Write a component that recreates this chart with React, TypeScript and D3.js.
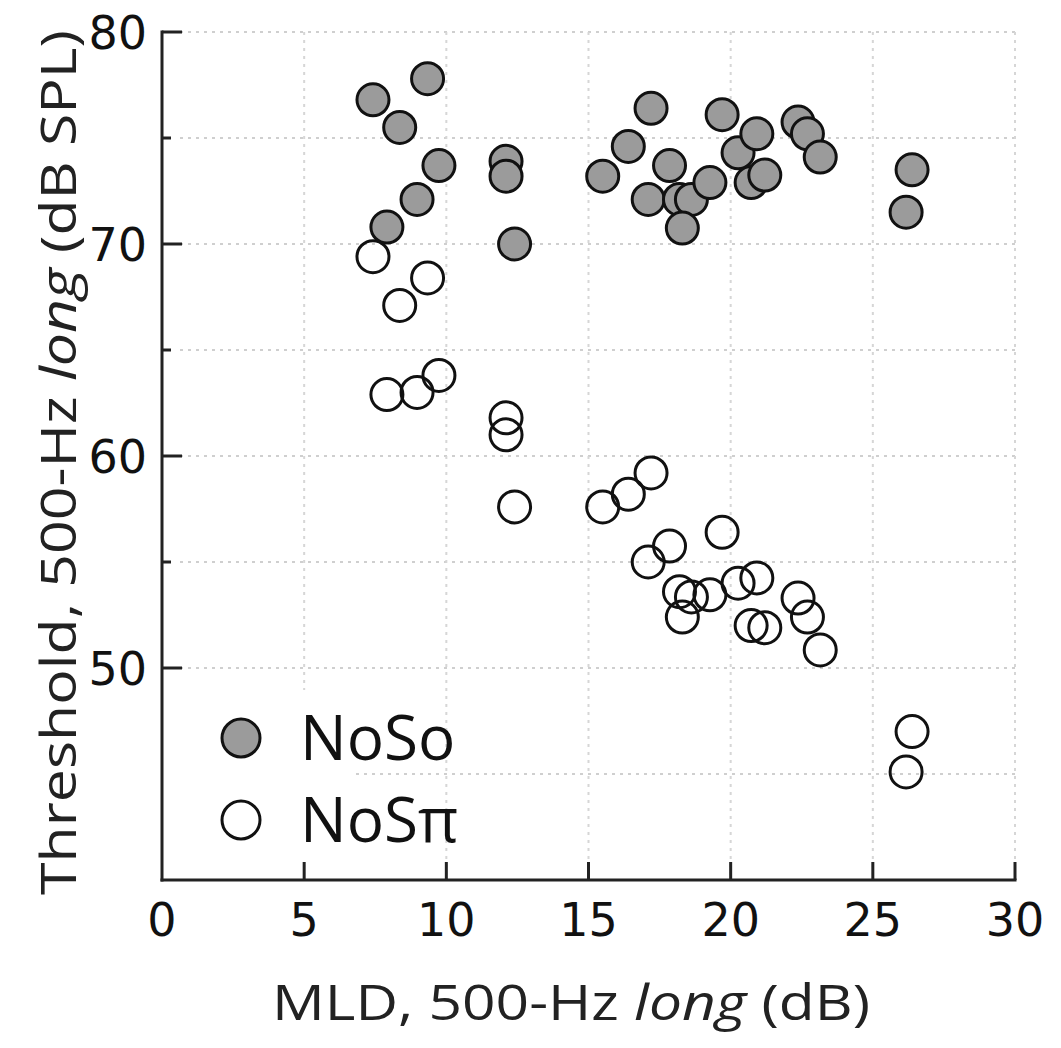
import React from "react";
import * as d3 from "d3";

const mld = [7.42, 9.34, 8.36, 9.74, 8.97, 7.91, 12.1, 12.1, 12.4, 15.5, 16.4, 17.2, 17.85, 17.1, 18.2, 18.62, 18.3, 19.27, 19.7, 20.26, 20.92, 20.72, 21.2, 22.37, 22.7, 23.15, 26.38, 26.17];
const thrNoSo = [76.8, 77.8, 75.5, 73.7, 72.1, 70.8, 73.9, 73.2, 70.0, 73.2, 74.6, 76.4, 73.7, 72.1, 72.1, 72.1, 70.75, 72.9, 76.1, 74.3, 75.2, 72.9, 73.25, 75.75, 75.2, 74.1, 73.5, 71.5];
const thrNoSpi = [69.4, 68.4, 67.1, 63.8, 63.0, 62.9, 61.8, 61.0, 57.6, 57.6, 58.2, 59.2, 55.75, 55.0, 53.6, 53.35, 52.4, 53.45, 56.4, 54.0, 54.25, 52.0, 51.9, 53.3, 52.4, 50.85, 47.0, 45.1];

const xTicks = [0, 5, 10, 15, 20, 25, 30];
const yMajor = [50, 60, 70, 80];
const yMinor = [55, 65, 75];
const hGrid = [45, 50, 55, 60, 65, 70, 75, 80];
const vGrid = [5, 10, 15, 20, 25, 30];
const legendItems = [
  { label: "NoSo", fill: "#9b9b9b" },
  { label: "NoSπ", fill: "#ffffff" },
];

export default function App() {
  const W = 1061, H = 1048;
  const x = d3.scaleLinear().domain([0, 30]).range([162, 1015]);
  const y = d3.scaleLinear().domain([40, 80]).range([880, 32]);
  const r = 16;
  const tickFont = "'DejaVu Sans', Verdana, sans-serif";
  const titleFont = "'Open Sans', 'Noto Sans', sans-serif";
  const axisColor = "#222";

  return (
    <svg width={W} height={H} style={{ position: "absolute", left: 0, top: 0, background: "#fff" }}>
      <rect x={0} y={0} width={W} height={H} fill="#fff" />
      {/* grid */}
      {hGrid.map((v) => (
        <line key={"h" + v} x1={x(0) + 18} x2={x(30)} y1={y(v)} y2={y(v)} stroke="#cfcfcf" strokeWidth={2} strokeDasharray="3,5" />
      ))}
      {vGrid.map((v) => (
        <line key={"v" + v} x1={x(v)} x2={x(v)} y1={y(80)} y2={y(40)} stroke="#d6d6d6" strokeWidth={2} strokeDasharray="3,5" />
      ))}
      {/* legend background */}
      <rect x={166} y={690} width={190} height={175} fill="#fff" />
      {/* NoSpi points */}
      {mld.map((m, i) => (
        <circle key={"o" + i} cx={x(m)} cy={y(thrNoSpi[i])} r={r} fill="#fff" fillOpacity={0} stroke="#111" strokeWidth={3} />
      ))}
      {/* NoSo points */}
      {mld.map((m, i) => (
        <circle key={"f" + i} cx={x(m)} cy={y(thrNoSo[i])} r={r} fill="#9b9b9b" stroke="#111" strokeWidth={3} />
      ))}
      {/* axes */}
      <line x1={x(0)} x2={x(0)} y1={y(80) - 1.5} y2={y(40) + 1.5} stroke={axisColor} strokeWidth={3} />
      <line x1={x(0) - 1.5} x2={x(30) + 1.5} y1={y(40)} y2={y(40)} stroke={axisColor} strokeWidth={3} />
      {yMajor.map((v) => (
        <g key={"ym" + v}>
          <line x1={x(0)} x2={x(0) + 20} y1={y(v)} y2={y(v)} stroke={axisColor} strokeWidth={3} />
          <text x={x(0) - 15} y={y(v)} dy="0.36em" textAnchor="end" fontFamily={tickFont} fontSize={46} fill="#111">{v}</text>
        </g>
      ))}
      {yMinor.map((v) => (
        <line key={"yn" + v} x1={x(0)} x2={x(0) + 9} y1={y(v)} y2={y(v)} stroke={axisColor} strokeWidth={3} />
      ))}
      {xTicks.map((v) => (
        <g key={"xt" + v}>
          {v > 0 && <line x1={x(v)} x2={x(v)} y1={y(40)} y2={y(40)} stroke={axisColor} strokeWidth={3} />}
          {v > 0 && <line x1={x(v)} x2={x(v)} y1={y(40)} y2={y(40) - 18} stroke={axisColor} strokeWidth={3} />}
          <text x={x(v)} y={y(40) + 56} textAnchor="middle" fontFamily={tickFont} fontSize={46} fill="#111">{v}</text>
        </g>
      ))}
      {/* axis titles */}
      <text x={272} y={1020} textLength={598} lengthAdjust="spacingAndGlyphs" fontFamily={titleFont} fontSize={50} fill="#222">
        MLD, 500-Hz <tspan fontStyle="italic">long</tspan> (dB)
      </text>
      <text transform={`translate(76, 895) rotate(-90)`} textLength={865} lengthAdjust="spacingAndGlyphs" fontFamily={titleFont} fontSize={50} fill="#222">
        Threshold, 500-Hz <tspan fontStyle="italic">long</tspan>  (dB SPL)
      </text>
      {/* legend */}
      {legendItems.map((it, i) => (
        <g key={it.label} transform={`translate(0, ${738 + i * 82})`}>
          <circle cx={241} cy={0} r={19} fill={it.fill} stroke="#111" strokeWidth={3} />
          <text x={300} y={0} dy="0.36em" fontFamily={titleFont} fontSize={62} fill="#111">{it.label}</text>
        </g>
      ))}
    </svg>
  );
}
